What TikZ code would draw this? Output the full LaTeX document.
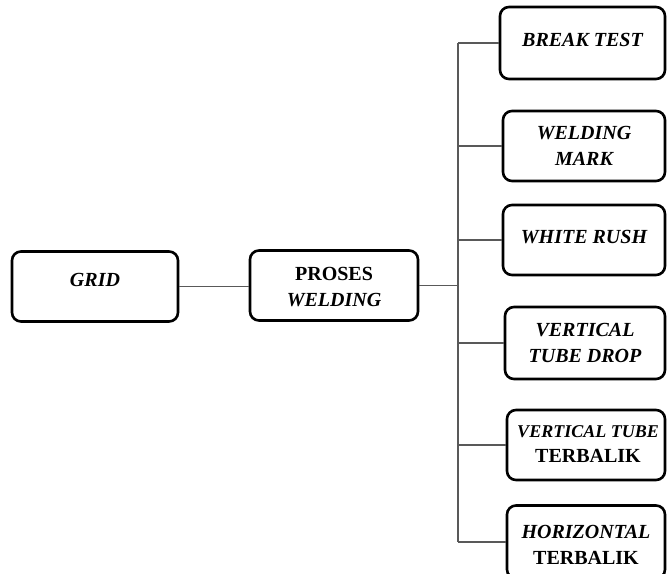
\documentclass[tikz,border=0pt]{standalone}
\usepackage{fontspec}
\setmainfont{Liberation Serif}
\begin{document}
\begin{tikzpicture}[x=0.5pt,y=-0.5pt,
  box/.style={draw=black,line width=1.3pt,rounded corners=4.5pt,fill=white},
  lbl/.style={font=\fontsize{10}{12.8}\selectfont\bfseries\itshape,align=center,inner sep=0pt},
  conn/.style={draw=black!65,line width=0.75pt}]
\useasboundingbox (0,0) rectangle (667,573);
% boxes
\node[box,minimum width=83pt,minimum height=35pt] (grid) at (95,286.5) {};
\node[box,minimum width=84pt,minimum height=35pt] (pw) at (334,285.5) {};
\node[box,minimum width=82.5pt,minimum height=36pt] (b1) at (582.5,43) {};
\node[box,minimum width=81pt,minimum height=35pt] (b2) at (584,146) {};
\node[box,minimum width=81pt,minimum height=35pt] (b3) at (584,240) {};
\node[box,minimum width=80pt,minimum height=36pt] (b4) at (585,343) {};
\node[box,minimum width=79pt,minimum height=35pt] (b5) at (586,445) {};
\node[box,minimum width=79pt,minimum height=36.5pt] (b6) at (586,542) {};
% texts
\node[lbl] (tgrid) at (95,280) {GRID};
\node[lbl] (tpw) at (334,287) {\upshape PROSES\\WELDING};
\node[lbl] (t1) at (582.5,40) {BREAK TEST};
\node[lbl] (t2) at (584,146) {WELDING\\MARK};
\node[lbl] (t3) at (584,237) {WHITE RUSH};
\node[lbl] (t4) at (585,343) {VERTICAL\\TUBE DROP};
\node[lbl] (t5) at (588,444) {\fontsize{9}{11.2}\selectfont VERTICAL TUBE\\\upshape TERBALIK};
\node[lbl] (t6) at (586,545) {HORIZONTAL\\\upshape TERBALIK};
% connectors
\coordinate (t) at (458,285);
\draw[conn] (grid.east) -- (grid.east -| pw.west);
\draw[conn] (pw.east) -- (pw.east -| t);
\draw[conn] (b1.west -| t) -- (b6.west -| t);
\foreach \b in {b1,b2,b3,b4,b5,b6}{
  \draw[conn] (\b.west -| t) -- (\b.west);
}
\end{tikzpicture}
\end{document}
